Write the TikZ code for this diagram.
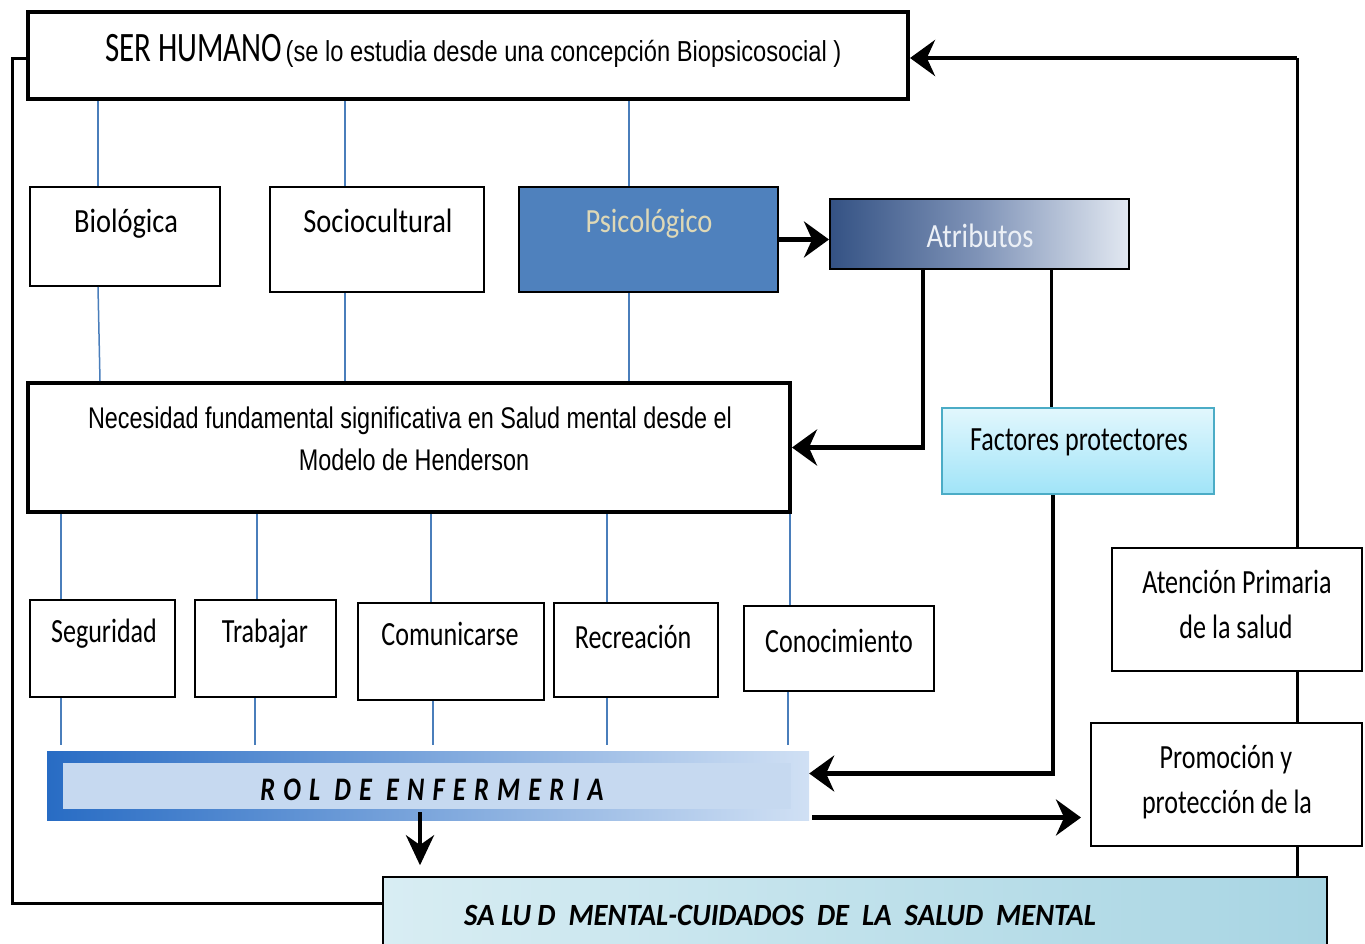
\documentclass[tikz,border=0pt]{standalone}
\usepackage{fontspec}
\usetikzlibrary{arrows.meta,fit}
\newfontfamily\calA[FakeStretch=0.84]{Carlito}
\newfontfamily\calB[FakeStretch=0.77]{Carlito}
\newfontfamily\calH[FakeStretch=0.74]{Carlito}
\newfontfamily\calR[FakeStretch=0.8,LetterSpace=25]{Carlito}
\newfontfamily\calS[FakeStretch=0.93]{Carlito}
\newfontfamily\ariS[FakeStretch=0.82]{Liberation Sans}
\newfontfamily\ariN[FakeStretch=0.783]{Liberation Sans}
\definecolor{lineblue}{RGB}{74,126,187}
\definecolor{psiblue}{RGB}{79,129,189}
\definecolor{psitext}{RGB}{222,216,182}
\definecolor{atrdark}{RGB}{52,82,132}
\definecolor{atrmid}{RGB}{128,148,184}
\definecolor{atrlight}{RGB}{226,232,241}
\definecolor{atrtext}{RGB}{236,240,246}
\definecolor{factop}{RGB}{226,247,253}
\definecolor{facbot}{RGB}{160,228,248}
\definecolor{facbord}{RGB}{75,172,198}
\definecolor{rolleft}{RGB}{40,108,196}
\definecolor{rolright}{RGB}{208,224,244}
\definecolor{rolin}{RGB}{198,217,240}
\definecolor{salleft}{RGB}{216,237,243}
\definecolor{salright}{RGB}{168,213,227}
\begin{document}
\begin{tikzpicture}[x=1bp,y=-1bp,
  box/.style={draw=black, line width=2bp, inner sep=0pt, fill=white},
  thickbox/.style={box, line width=4bp},
  lbl/.style={anchor=base, inner sep=0pt, font={\calB\fontsize{34}{40}\selectfont}},
  lblA/.style={lbl, font={\calA\fontsize{34}{40}\selectfont}},
  lblN/.style={lbl, font={\ariN\fontsize{30}{36}\selectfont}},
  bl/.style={draw=lineblue, line width=1.5bp},
  conn/.style={draw=black, line width=3bp},
  arr/.style={draw=black, line width=4.5bp, -{Stealth[length=25bp,width=36bp]}},
]
\useasboundingbox (0,0) rectangle (1365,943);

% ---------- boxes ----------
\node[thickbox, fit={(28,12) (908,99)}] (ser) {};
\node[box, fit={(30,187) (220,286)}] (bio) {};
\node[box, fit={(270,187) (484,292)}] (soc) {};
\node[box, fill=psiblue, fit={(519,187) (778,292)}] (psi) {};
\node[box, left color=atrdark, right color=atrlight, middle color=atrmid, fit={(830,199) (1129,269)}] (atr) {};
\node[thickbox, fit={(28,383) (790,512)}] (nec) {};
\node[box, draw=facbord, top color=factop, bottom color=facbot, fit={(942,408) (1214,494)}] (fac) {};
\node[box, fit={(30,600) (175,697)}] (seg) {};
\node[box, fit={(195,600) (336,697)}] (tra) {};
\node[box, fit={(358,603) (544,700)}] (com) {};
\node[box, fit={(554,603) (718,697)}] (rec) {};
\node[box, fit={(744,606) (934,691)}] (con) {};
\node[box, fit={(1112,548) (1362,671)}] (atn) {};
\node[box, fit={(1091,723) (1362,846)}] (prom) {};
\node[inner sep=0pt, left color=rolleft, right color=rolright, fit={(47,751) (809,820)}] (rol) {};
\node[inner sep=0pt, fill=rolin, fit={(63,763) (791,809)}] (rolin) {};
\node[box, line width=1.5bp, left color=salleft, right color=salright, fit={(383,877) (1327,962)}] (sal) {};

% ---------- texts ----------
\node[anchor=base west, inner sep=0pt] (tser) at (105,61)
  {{\calH\fontsize{42}{48}\selectfont SER HUMANO} {\ariS\fontsize{29}{34}\selectfont (se lo estudia desde una concepción Biopsicosocial )}};
\node[lblA] (tbio) at (126,232) {Biológica};
\node[lblA] (tsoc) at (378,232) {Sociocultural};
\node[lblA, text=psitext] (tpsi) at (649,232) {Psicológico};
\node[lblA, text=atrtext] (tatr) at (980,247) {Atributos};
\node[lblN] (tnec1) at (410,428) {Necesidad fundamental significativa en Salud mental desde el};
\node[lblN] (tnec2) at (414,470) {Modelo de Henderson};
\node[lbl] (tfac) at (1079,450) {Factores protectores};
\node[lbl] (tseg) at (104,642) {Seguridad};
\node[lbl] (ttra) at (265,642) {Trabajar};
\node[lbl] (tcom) at (450,645) {Comunicarse};
\node[lbl] (trec) at (633,648) {Recreación};
\node[lbl] (tcon) at (839,652) {Conocimiento};
\node[lbl] (tatn1) at (1237,593) {Atención Primaria};
\node[lbl] (tatn2) at (1236,638) {de la salud};
\node[lbl] (tprom1) at (1226,768) {Promoción y};
\node[lbl] (tprom2) at (1227,813) {protección de la};
\node[lbl, font={\calR\bfseries\itshape\fontsize{33}{38}\selectfont}] (trol) at (432,800) {ROL\ DE\ ENFERMERIA};
\node[lbl, font={\calS\bfseries\itshape\fontsize{31}{36}\selectfont}] (tsal) at (780,925) {SA LU D\ \ MENTAL-CUIDADOS\ \ DE\ \ LA\ \ SALUD\ \ MENTAL};

% ---------- guide coordinates ----------
\coordinate (xa) at (98,0);
\coordinate (xb) at (345,0);
\coordinate (xc) at (629,0);
\coordinate (xd) at (100,0);
\coordinate (n1) at (61,0);
\coordinate (n2) at (257,0);
\coordinate (n3) at (431,0);
\coordinate (n4) at (607,0);
\coordinate (n5) at (790,0);
\coordinate (m1) at (61,0);
\coordinate (m2) at (255,0);
\coordinate (m3) at (433,0);
\coordinate (m4) at (607,0);
\coordinate (m5) at (788,0);
\coordinate (xr) at (1297,0);
\coordinate (xq) at (923,0);
\coordinate (xf) at (1051,0);
\coordinate (xg) at (1053,0);
\coordinate (xs) at (420,0);
\coordinate (lp) at (12,0);
\coordinate (ra) at ([yshift=12bp]rol.east);
\coordinate (rb) at ([yshift=-32bp,xshift=3bp]rol.east);
\coordinate (sl) at ([yshift=16bp]sal.west);
\coordinate (st) at (0,58);

% ---------- thin blue connectors ----------
\draw[bl] (xa |- ser.south) -- (xa |- bio.north);
\draw[bl] (xb |- ser.south) -- (xb |- soc.north);
\draw[bl] (xc |- ser.south) -- (xc |- psi.north);
\draw[bl] (xa |- bio.south) -- (xd |- nec.north);
\draw[bl] (xb |- soc.south) -- (xb |- nec.north);
\draw[bl] (xc |- psi.south) -- (xc |- nec.north);
\draw[bl] (n1 |- nec.south) -- (n1 |- seg.north);
\draw[bl] (n2 |- nec.south) -- (n2 |- tra.north);
\draw[bl] (n3 |- nec.south) -- (n3 |- com.north);
\draw[bl] (n4 |- nec.south) -- (n4 |- rec.north);
\draw[bl] (n5 |- nec.south) -- (n5 |- con.north);
\draw[bl] (m1 |- seg.south) -- ([yshift=6bp]m1 |- rol.north);
\draw[bl] (m2 |- tra.south) -- ([yshift=6bp]m2 |- rol.north);
\draw[bl] (m3 |- com.south) -- ([yshift=6bp]m3 |- rol.north);
\draw[bl] (m4 |- rec.south) -- ([yshift=6bp]m4 |- rol.north);
\draw[bl] (m5 |- con.south) -- ([yshift=6bp]m5 |- rol.north);

% ---------- black connectors ----------
\draw[conn] (xr |- atn.north) -- (xr |- st);
\draw[arr] (xr |- st) -- (ser.east |- st);
\draw[conn] (xr |- atn.south) -- (xr |- prom.north);
\draw[conn] (xr |- prom.south) -- (xr |- sal.north);
\draw[arr] (psi.east) -- (psi.east -| atr.west);
\draw[arr] (xq |- atr.south) |- (nec.east);
\draw[conn] (xf |- atr.south) -- (xf |- fac.north);
\draw[arr] (xg |- fac.south) |- (ra);
\draw[arr, -{Stealth[length=30bp,width=28bp]}, shorten >=11bp] ([yshift=8bp]xs |- rol.south) -- (xs |- sal.north);
\draw[arr, shorten >=9bp] (rb) -- (rb -| prom.west);
\draw[conn] (sl) -| (lp |- st) -- (ser.west |- st);
\end{tikzpicture}
\end{document}
